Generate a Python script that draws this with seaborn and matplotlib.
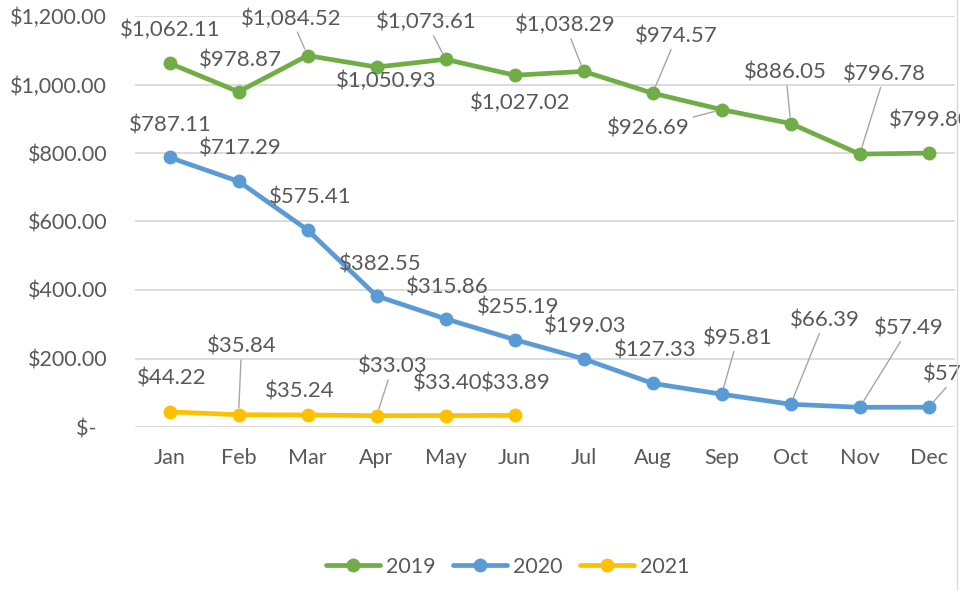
import matplotlib.pyplot as plt
import pandas as pd
import seaborn as sns
from matplotlib.lines import Line2D

months = ['Jan', 'Feb', 'Mar', 'Apr', 'May', 'Jun', 'Jul', 'Aug', 'Sep', 'Oct', 'Nov', 'Dec']
years = ['2019', '2020', '2021']
sales_2019 = [1062.11, 978.87, 1084.52, 1050.93, 1073.61, 1027.02, 1038.29, 974.57, 926.69, 886.05, 796.78, 799.80]
sales_2020 = [787.11, 717.29, 575.41, 382.55, 315.86, 255.19, 199.03, 127.33, 95.81, 66.39, 57.49, 57.80]
sales_2021 = [44.22, 35.84, 35.24, 33.03, 33.40, 33.89]
colors = ['#70AD47', '#5B9BD5', '#FFC000']

# where each data label sits (pixel offset from its point) and whether it has a leader line
offsets_2019 = [(1, 33), (2, 31), (-16, 37), (10, -14), (-19, 37), (6, -28), (-18, 46), (24, 57), (-73, -19), (-5, 51), (25, 80), (2, 33)]
leaders_2019 = [0, 0, 1, 0, 1, 0, 1, 1, 1, 1, 1, 0]
offsets_2020 = [(1, 32), (2, 33), (3, 32), (4, 31), (2, 31), (4, 32), (2, 32), (3, 33), (16, 56), (34, 84), (49, 79), (29, 33)]
leaders_2020 = [0, 0, 0, 0, 0, 0, 0, 0, 1, 1, 1, 1]
offsets_2021 = [(2, 33), (3, 68), (-8, 23), (16, 49), (2, 32), (1, 32)]
leaders_2021 = [0, 1, 0, 1, 0, 0]

series = [sales_2019, sales_2020, sales_2021]
offsets = [offsets_2019, offsets_2020, offsets_2021]
leaders = [leaders_2019, leaders_2020, leaders_2021]

rows = []
for year, vals in zip(years, series):
    for i, v in enumerate(vals):
        rows.append({'month': i, 'year': year, 'sales': v})
df = pd.DataFrame(rows)

sns.set_style('white')
plt.rcParams['font.family'] = ['Lato', 'DejaVu Sans']
text_col = '#595959'

fig = plt.figure(figsize=(9.6, 5.91), dpi=100)
ax = fig.add_axes([135 / 960, (591 - 427) / 591, (955 - 135) / 960, 411 / 591])

sns.lineplot(data=df, x='month', y='sales', hue='year', palette=colors, marker='o',
             markersize=10, markeredgewidth=0, linewidth=3.4, legend=False, ax=ax)

for vals, offs, leads in zip(series, offsets, leaders):
    for i, v in enumerate(vals):
        kw = {}
        if leads[i]:
            kw['arrowprops'] = dict(arrowstyle='-', color='#A6A6A6', lw=1, shrinkA=0, shrinkB=5)
        ax.annotate(f'${v:,.2f}', (i, v), xytext=offs[i], textcoords='offset pixels',
                    ha='center', va='center', fontsize=16, color=text_col,
                    annotation_clip=False, **kw)

ax.set_xlim(-0.5, 11.38)
ax.set_ylim(0, 1200)
ax.set_xticks(range(12))
ax.set_xticklabels(months)
yt = list(range(0, 1201, 200))
ax.set_yticks(yt)
ax.set_yticklabels(['$-  '] + [f'${t:,.2f}' for t in yt[1:]])
ax.tick_params(axis='both', length=0, labelsize=15.5, labelcolor=text_col)
ax.tick_params(axis='y', pad=20)
ax.tick_params(axis='x', pad=15)
ax.set_xlabel('')
ax.set_ylabel('')
ax.grid(axis='y', color='#D9D9D9', linewidth=1.3)
ax.set_axisbelow(True)
for s in ax.spines.values():
    s.set_visible(False)

fig.add_artist(Line2D([957 / 960, 957 / 960], [0, 1], color='#D9D9D9', linewidth=1))

fig.legend(handles=ax.lines[:3], labels=years, loc='center', bbox_to_anchor=(508 / 960, 1 - 567 / 591),
           ncol=3, frameon=False, fontsize=15.5, handlelength=2.5, columnspacing=0.8,
           handletextpad=0.3, labelcolor=text_col)

fig.savefig('out.png', dpi=100)
